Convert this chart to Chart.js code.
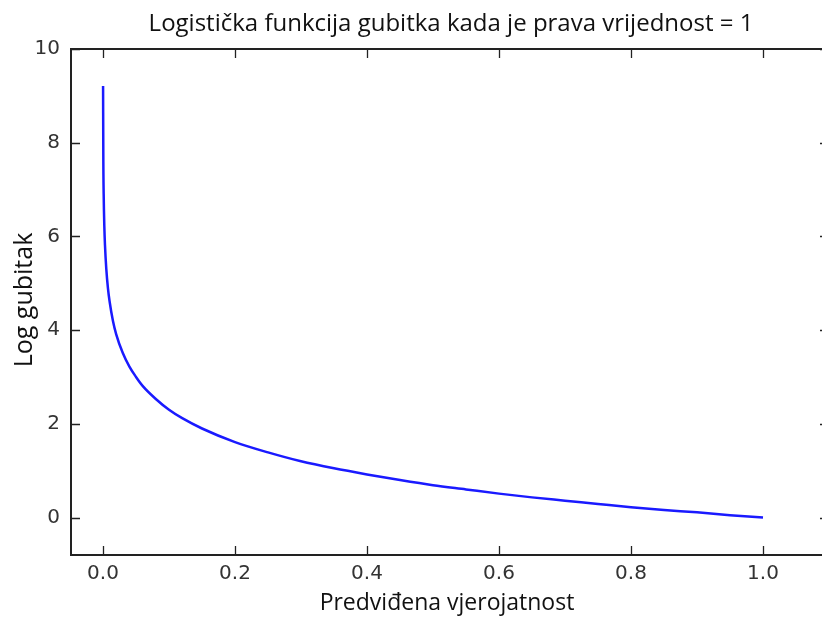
<!DOCTYPE html>
<html>
<head>
<meta charset="utf-8">
<script src="https://cdn.jsdelivr.net/npm/chart.js@4/dist/chart.umd.min.js"></script>
<style>
  html, body { margin: 0; padding: 0; background: #fff; overflow: hidden; }
  canvas { display: block; }
</style>
</head>
<body>
<canvas id="lossChart" width="822" height="619"></canvas>
<script>
// values
const predicted = [0.0001, 0.0005, 0.001, 0.002, 0.003, 0.005, 0.0075, 0.01, 0.015, 0.02,
  0.03, 0.04, 0.05, 0.06, 0.08, 0.1, 0.12, 0.15, 0.2, 0.25, 0.3, 0.35, 0.4, 0.45, 0.5,
  0.55, 0.6, 0.65, 0.7, 0.75, 0.8, 0.85, 0.9, 0.95, 1.0];
const logLoss = [9.21, 7.60, 6.91, 6.21, 5.81, 5.30, 4.89, 4.61, 4.20, 3.91,
  3.51, 3.22, 3.00, 2.81, 2.53, 2.30, 2.12, 1.90, 1.61, 1.39, 1.20, 1.05, 0.92, 0.80, 0.69,
  0.60, 0.51, 0.43, 0.36, 0.29, 0.22, 0.16, 0.11, 0.05, 0.00];

const xTicks = [0, 0.2, 0.4, 0.6, 0.8, 1.0];
const yTicks = [0, 2, 4, 6, 8, 10];

const chartTitle = "Logistička funkcija gubitka kada je prava vrijednost = 1";
const xTitle = "Predviđena vjerojatnost";
const yTitle = "Log gubitak";

const points = predicted.map((p, i) => ({ x: p, y: logLoss[i] }));

// matplotlib style frame: spines + inward ticks on all four sides, plus titles.
// The picture is cropped on the right: the right spine (x = 1.1) lies just
// past the edge, only the tips of its ticks show.
const frame = {
  id: 'frame',
  afterDatasetsDraw(chart) {
    const ctx = chart.ctx;
    const a = chart.chartArea;
    const sx = chart.scales.x, sy = chart.scales.y;
    const right = sx.getPixelForValue(1.1);
    ctx.save();
    ctx.strokeStyle = '#222';
    ctx.lineWidth = 1.3;
    xTicks.forEach(v => {
      const px = Math.round(sx.getPixelForValue(v)) + 0.5;
      ctx.beginPath();
      ctx.moveTo(px, a.bottom); ctx.lineTo(px, a.bottom - 9);
      ctx.moveTo(px, a.top); ctx.lineTo(px, a.top + 9);
      ctx.stroke();
    });
    yTicks.forEach(v => {
      const py = Math.round(sy.getPixelForValue(v)) + 0.5;
      ctx.beginPath();
      ctx.moveTo(a.left, py); ctx.lineTo(a.left + 9, py);
      ctx.moveTo(right, py); ctx.lineTo(right - 9, py);
      ctx.stroke();
    });
    ctx.lineWidth = 2;
    ctx.strokeRect(a.left, a.top, right - a.left, a.bottom - a.top);
    ctx.restore();
  },
  afterDraw(chart) {
    const ctx = chart.ctx;
    ctx.save();
    ctx.fillStyle = '#111';
    ctx.textAlign = 'center';
    ctx.textBaseline = 'alphabetic';
    ctx.font = '24px "Open Sans"';
    ctx.fillText(chartTitle, 451, 31);
    ctx.font = '23px "Open Sans"';
    ctx.fillText(xTitle, 447, 610);
    ctx.font = '25px "Open Sans"';
    ctx.translate(32, 300);
    ctx.rotate(-Math.PI / 2);
    ctx.fillText(yTitle, 0, 0);
    ctx.restore();
  }
};

new Chart(document.getElementById('lossChart'), {
  type: 'line',
  data: {
    datasets: [{
      data: points,
      borderColor: '#1a1aff',
      borderWidth: 2.5,
      pointRadius: 0,
      fill: false,
      cubicInterpolationMode: 'monotone'
    }]
  },
  options: {
    responsive: false,
    animation: false,
    layout: { padding: { top: 49, right: 0, left: 0, bottom: 0 } },
    plugins: { legend: { display: false }, tooltip: { enabled: false } },
    scales: {
      x: {
        type: 'linear',
        min: -0.0485,
        max: 1.0894,
        afterBuildTicks: s => { s.ticks = xTicks.map(v => ({ value: v })); },
        afterFit: s => { s.height = 64; },
        grid: { display: false, drawTicks: false },
        border: { display: false },
        ticks: {
          padding: 7,
          color: '#333',
          font: { family: 'DejaVu Sans', size: 20 },
          maxRotation: 0,
          callback: v => Number(v).toFixed(1)
        }
      },
      y: {
        type: 'linear',
        min: -0.8,
        max: 10,
        afterBuildTicks: s => { s.ticks = yTicks.map(v => ({ value: v })); },
        afterFit: s => { s.width = 71; },
        grid: { display: false, drawTicks: false },
        border: { display: false },
        ticks: {
          padding: 11,
          color: '#333',
          font: { family: 'DejaVu Sans', size: 20 },
          callback: v => String(v)
        }
      }
    }
  },
  plugins: [frame]
});
</script>
</body>
</html>
